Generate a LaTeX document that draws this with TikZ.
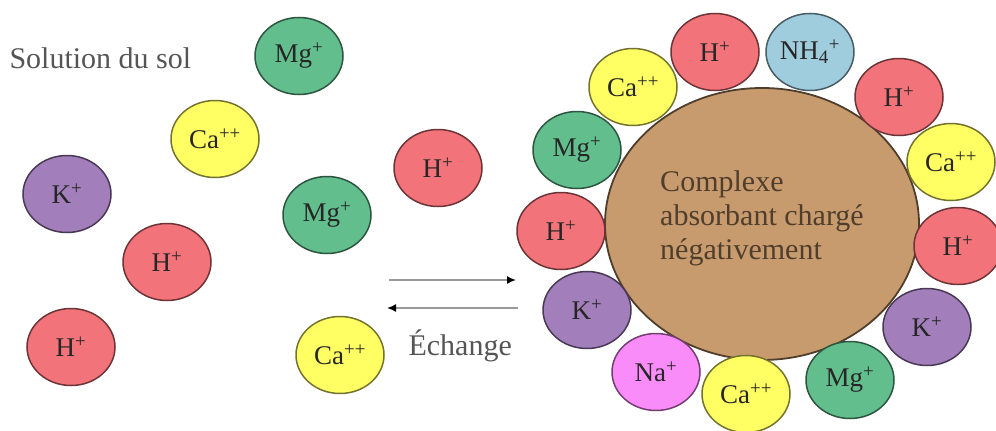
\documentclass[tikz,border=0pt]{standalone}
\usepackage{fontspec}
\setmainfont{Liberation Serif}
\usetikzlibrary{shapes.geometric,arrows.meta}
\definecolor{ionred}{RGB}{242,116,122}
\definecolor{iongreen}{RGB}{98,190,140}
\definecolor{ionyellow}{RGB}{255,255,100}
\definecolor{ionpurple}{RGB}{162,126,186}
\definecolor{ionblue}{RGB}{160,205,222}
\definecolor{ionpink}{RGB}{250,140,250}
\definecolor{complexbrown}{RGB}{200,155,110}
\definecolor{labelgray}{RGB}{85,85,85}
\begin{document}
\begin{tikzpicture}[x=1pt,y=-1pt,
  ion/.style={ellipse, fill=#1, draw=#1!45!black, line width=1.5pt,
    minimum width=88pt, minimum height=77pt, inner sep=0pt,
    font=\fontsize{27}{27}\selectfont, text=black!85},
  caption/.style={anchor=west, text=labelgray, font=\fontsize{30}{30}\selectfont},
  exch/.style={draw=black!40, line width=1.6pt, -{Latex[length=9pt,width=8pt,color=black]}}
  ]
\useasboundingbox (0,0) rectangle (996,431);

% solution du sol
\node[caption] (sol) at (6,58) {Solution du sol};
\node[ion=iongreen]  (mg1) at (299,56)  {Mg\textsuperscript{+}};
\node[ion=ionyellow] (ca1) at (215,139) {Ca\textsuperscript{++}};
\node[ion=ionpurple] (k1)  at (67,194)  {K\textsuperscript{+}};
\node[ion=ionred]    (h1)  at (167,262) {H\textsuperscript{+}};
\node[ion=ionred]    (h2)  at (71,347)  {H\textsuperscript{+}};
\node[ion=iongreen]  (mg2) at (327,215) {Mg\textsuperscript{+}};
\node[ion=ionred]    (h3)  at (438,168) {H\textsuperscript{+}};
\node[ion=ionyellow] (ca2) at (340,355) {Ca\textsuperscript{++}};

% exchange arrows
\coordinate (a1s) at (389,280);
\coordinate (a1e) at (516,280);
\coordinate (a2s) at (518,308);
\coordinate (a2e) at (387,308);
\draw[exch] (a1s) -- (a1e);
\draw[exch] (a2s) -- (a2e);
\node[caption] (ech) at (405,346) {Échange};

% complexe absorbant
\node[ellipse, fill=complexbrown, draw=complexbrown!40!black, line width=1.8pt,
  minimum width=314pt, minimum height=272pt, inner sep=0pt] (cx) at (762,224) {};
\node[align=left, text=black!60!complexbrown, font=\fontsize{30}{34}\selectfont]
  (cxlabel) at ([yshift=6pt]cx.center) {Complexe\\absorbant chargé\\négativement};

% adsorbed ions
\node[ion=ionred]    (r1)  at (715,52)  {H\textsuperscript{+}};
\node[ion=ionblue]   (r2)  at (810,52)  {NH\textsubscript{4}\textsuperscript{+}};
\node[ion=ionred]    (r3)  at (899,97)  {H\textsuperscript{+}};
\node[ion=ionyellow] (r4)  at (951,162) {Ca\textsuperscript{++}};
\node[ion=ionred]    (r5)  at (958,246) {H\textsuperscript{+}};
\node[ion=ionpurple] (r6)  at (927,327) {K\textsuperscript{+}};
\node[ion=iongreen]  (r7)  at (850,380) {Mg\textsuperscript{+}};
\node[ion=ionyellow] (r8)  at (746,394) {Ca\textsuperscript{++}};
\node[ion=ionpink]   (r9)  at (656,372) {Na\textsuperscript{+}};
\node[ion=ionpurple] (r10) at (587,310) {K\textsuperscript{+}};
\node[ion=ionred]    (r11) at (561,231) {H\textsuperscript{+}};
\node[ion=iongreen]  (r12) at (577,150) {Mg\textsuperscript{+}};
\node[ion=ionyellow] (r13) at (633,87)  {Ca\textsuperscript{++}};
\end{tikzpicture}
\end{document}
